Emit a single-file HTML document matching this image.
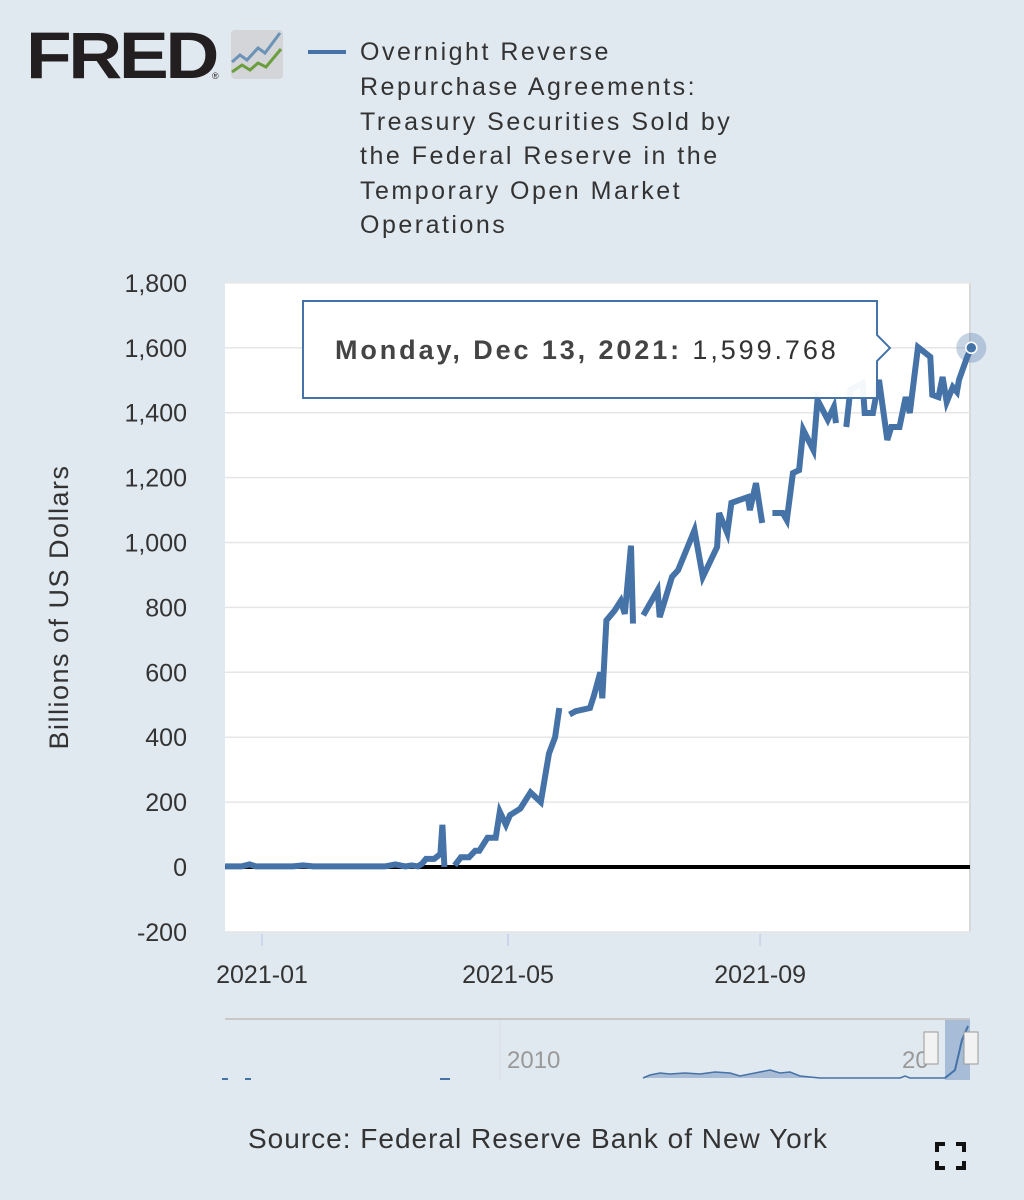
<!DOCTYPE html>
<html><head><meta charset="utf-8"><style>
body{margin:0;width:1024px;height:1200px;background:#e1e9f0;overflow:hidden;font-family:"Liberation Sans",sans-serif}
svg{position:absolute;left:0;top:0}
</style></head><body>
<svg width="1024" height="1200">
<g>
<text x="26" y="78" font-size="66" font-weight="bold" fill="#231f20" font-family="Liberation Sans" letter-spacing="-3" textLength="190" lengthAdjust="spacingAndGlyphs">FRED</text>
<text x="212" y="79" font-size="9" fill="#231f20">®</text>
<rect x="231" y="30" width="52" height="49" rx="4" fill="#d3d5d8"/>
<polyline points="232,62 240,55 247,60 258,48 265,53 280,33" fill="none" stroke="#6a93b7" stroke-width="3"/>
<polyline points="232,72 242,65 250,70 258,63 266,67 281,49" fill="none" stroke="#6b9e3e" stroke-width="3"/>
</g>
<g>
<rect x="308" y="50" width="38" height="4" fill="#4572a7"/>
<g font-size="25" fill="#333" letter-spacing="2.5" font-family="Liberation Sans">
<text x="360" y="60">Overnight Reverse</text>
<text x="360" y="95">Repurchase Agreements:</text>
<text x="360" y="130">Treasury Securities Sold by</text>
<text x="360" y="164">the Federal Reserve in the</text>
<text x="360" y="199">Temporary Open Market</text>
<text x="360" y="233">Operations</text>
</g></g>
<rect x="225" y="283" width="745" height="649" fill="#fff"/>
<line x1="970" y1="283" x2="970" y2="932" stroke="#d8d8d8" stroke-width="2"/>
<g id="grid"></g><g id="ylabels" font-size="25" fill="#333" text-anchor="end"></g>
<g id="xlabels" font-size="25" fill="#333" text-anchor="middle"></g>
<text transform="translate(68,607) rotate(-90)" font-size="27" letter-spacing="1.5" fill="#333" text-anchor="middle">Billions of US Dollars</text>
<line x1="225" y1="867" x2="970" y2="867" stroke="#000" stroke-width="4"/>
<g id="series"></g>
<g>
<path d="M303,301 H877 V335 L890,348 L877,361 V398 H303 Z" fill="#fff" fill-opacity="0.95" stroke="#4572a7" stroke-width="2"/>
<text x="335" y="359" font-size="27" fill="#333" letter-spacing="2.9"><tspan font-weight="bold" fill="#444">Monday, Dec 13, 2021:</tspan> 1,599.768</text>
</g>
<g>
<line x1="225" y1="1019" x2="970" y2="1019" stroke="#c8c8c8" stroke-width="2"/>
<line x1="500" y1="1020" x2="500" y2="1080" stroke="#d6dde4"/>
<text x="507" y="1068" font-size="24" fill="#999">2010</text>
<text x="902" y="1068" font-size="24" fill="#999">20</text>
<path d="M643,1078 L650,1075 L660,1073 L670,1074 L685,1073 L700,1074 L715,1072 L730,1073 L740,1076 L760,1072 L770,1070 L780,1073 L790,1072 L800,1076 L820,1078 Z" fill="#a8bcd6"/>
<polyline points="643,1078 650,1075 660,1073 670,1074 685,1073 700,1074 715,1072 730,1073 740,1076 760,1072 770,1070 780,1073 790,1072 800,1076 820,1078 900,1078 905,1076 910,1078 945,1078" fill="none" stroke="#4572a7" stroke-width="1.5"/>
<rect x="945" y="1020" width="25" height="60" fill="#8fa9cc" fill-opacity="0.7"/>
<polyline points="945,1078 955,1070 962,1040 968,1026" fill="none" stroke="#4572a7" stroke-width="2"/>
<rect x="924" y="1032" width="14" height="32" fill="#f2f2f2" stroke="#999"/>
<rect x="964" y="1032" width="14" height="32" fill="#f2f2f2" stroke="#999"/>
<g><rect x="222" y="1078" width="6" height="2" fill="#4572a7"/><rect x="245" y="1078" width="6" height="2" fill="#4572a7"/><rect x="440" y="1078" width="10" height="2" fill="#4572a7"/></g>
</g>
<text x="248" y="1148" font-size="28" letter-spacing="1" fill="#333">Source: Federal Reserve Bank of New York</text>
<g stroke="#111" stroke-width="4" fill="none">
<path d="M937,1152 V1144 H945"/><path d="M956,1144 H964 V1152"/><path d="M937,1161 V1168 H945"/><path d="M956,1168 H964 V1161"/>
</g>
<circle id="halo" cx="970" cy="348" r="15" fill="#4572a7" fill-opacity="0.3"/>
<circle id="lastdot" cx="970" cy="348" r="5.5" fill="#4572a7" stroke="#fff" stroke-width="1.5"/>
</svg>
<script>
// days since 2021-01-01 ; null value = gap
const dayIndex=[-18,-10,-6,-3,0,5,10,15,20,25,30,35,40,45,50,55,60,65,70,73,76,78,80,84,87,88,89,90,94,97,101,104,106,110,114,116,119,121,126,131,136,140,143,145,146,150,153,160,162,165,166,168,172,175,177,180,181,182,186,193,194,200,203,211,215,222,223,227,229,237,238,241,244,245,249,254,256,259,262,264,269,271,276,279,280,281,285,287,293,294,298,301,305,307,311,314,316,320,326,327,330,332,334,337,339,340,344,346];
const rrpValues=[2,2,8,2,2,2,2,2,5,2,2,2,2,2,2,2,2,8,2,5,2,10,25,25,40,130,0,null,5,30,30,50,50,90,90,170,130,160,180,230,200,350,400,490,null,470,480,490,530,600,520,760,790,820,780,990,750,null,776,853,770,894,915,1038,894,986,1091,1029,1122,1140,1100,1183,1060,null,1091,1091,1069,1214,1223,1347,1285,1439,1378,1418,1368,null,1356,1470,1491,1399,1399,1501,1316,1356,1356,1448,1399,1602,1572,1455,1448,1510,1433,1479,1464,1501,1572,1600];
const yTicks=[-200,0,200,400,600,800,1000,1200,1400,1600,1800];
const yTickLabels=["-200","0","200","400","600","800","1,000","1,200","1,400","1,600","1,800"];
const xTicks=[0,120,243];
const xTickLabels=["2021-01","2021-05","2021-09"];
const NS="http://www.w3.org/2000/svg";
const X=d=>262+d*2.05, Y=v=>867-v*0.3245;
const grid=document.getElementById('grid'),yl=document.getElementById('ylabels'),xl=document.getElementById('xlabels'),ser=document.getElementById('series');
yTicks.forEach((t,i)=>{
 if(t!==0){const l=document.createElementNS(NS,'line');
 
 
 l.setAttribute('x1',225);l.setAttribute('x2',970);l.setAttribute('y1',Y(t));l.setAttribute('y2',Y(t));l.setAttribute('stroke','#e6e6e6');l.setAttribute('stroke-width',1.5);grid.appendChild(l);}
 const tx=document.createElementNS(NS,'text');
 
 
 tx.setAttribute('x',187);tx.setAttribute('y',Y(t)+9);tx.textContent=yTickLabels[i];yl.appendChild(tx);
});
xTicks.forEach((d,i)=>{
 const l=document.createElementNS(NS,'line');
 
 
 l.setAttribute('x1',X(d));l.setAttribute('x2',X(d));l.setAttribute('y1',934);l.setAttribute('y2',946);l.setAttribute('stroke','#ccd6eb');l.setAttribute('stroke-width',2);xl.appendChild(l);
 const tx=document.createElementNS(NS,'text');
 
 
 tx.setAttribute('x',X(d));tx.setAttribute('y',983);tx.textContent=xTickLabels[i];xl.appendChild(tx);
});
let segs=[],cur=[];
dayIndex.forEach((d,i)=>{const v=rrpValues[i];if(v===null||v===undefined){if(cur.length)segs.push(cur);cur=[];}else cur.push(Math.max(225,X(d)).toFixed(1)+','+Y(v).toFixed(1));});
if(cur.length)segs.push(cur);
segs.forEach(s=>{const p=document.createElementNS(NS,'polyline');
 
 
 p.setAttribute('points',s.join(' '));p.setAttribute('fill','none');p.setAttribute('stroke','#4572a7');p.setAttribute('stroke-width',6);p.setAttribute('stroke-linejoin','miter');ser.appendChild(p);});
const n=Math.min(dayIndex.length,rrpValues.length)-1,dot=document.getElementById('lastdot'),halo=document.getElementById('halo');
dot.setAttribute('cx',X(dayIndex[n]));dot.setAttribute('cy',Y(rrpValues[n]));
halo.setAttribute('cx',X(dayIndex[n]));halo.setAttribute('cy',Y(rrpValues[n]));
</script>
</body></html>
